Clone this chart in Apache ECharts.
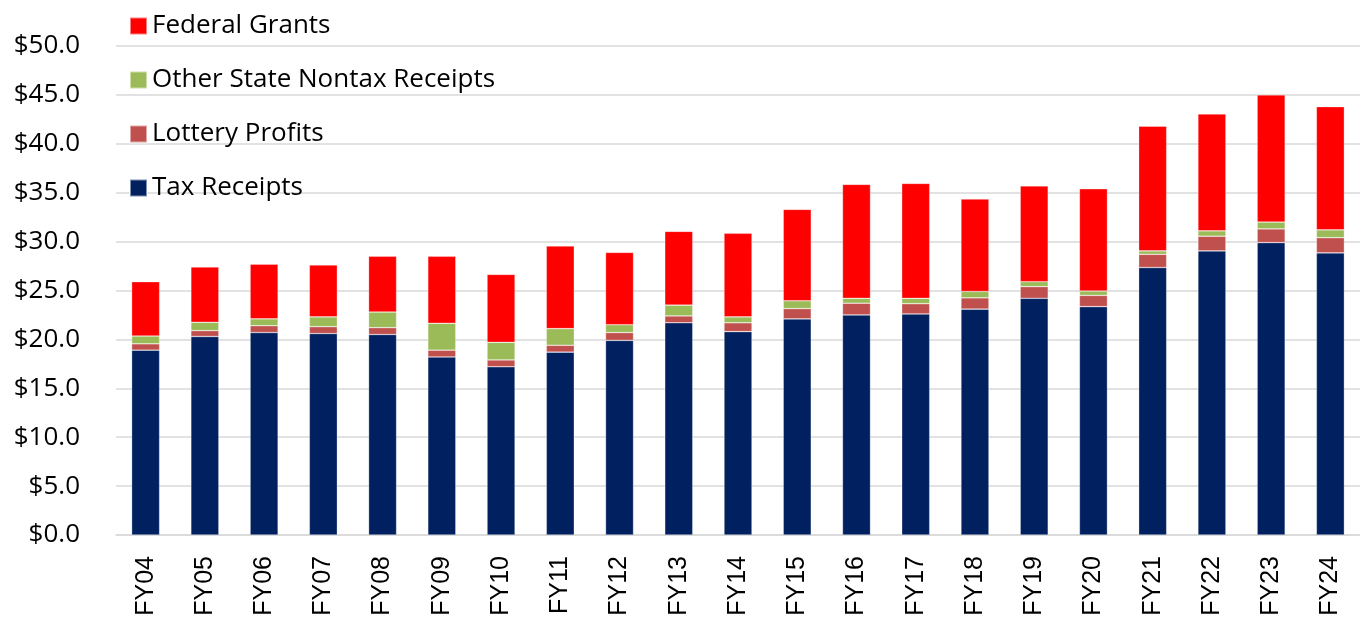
<!DOCTYPE html>
<html>
<head>
<meta charset="utf-8">
<script src="https://cdn.jsdelivr.net/npm/echarts@6/dist/echarts.min.js"></script>
<style>
html,body{margin:0;padding:0;background:#fff;}
#chart{width:1360px;height:620px;}
</style>
</head>
<body>
<div id="chart"></div>
<script>
const categories = ['FY04','FY05','FY06','FY07','FY08','FY09','FY10','FY11','FY12','FY13','FY14','FY15','FY16','FY17','FY18','FY19','FY20','FY21','FY22','FY23','FY24'];
const taxReceipts = [18.9,20.3,20.7,20.6,20.5,18.2,17.2,18.7,19.9,21.7,20.8,22.1,22.5,22.6,23.1,24.2,23.35,27.35,29.05,29.9,28.85];
const lotteryProfits = [0.65,0.6,0.7,0.7,0.7,0.7,0.7,0.7,0.8,0.7,0.9,1.05,1.2,1.05,1.15,1.2,1.15,1.35,1.5,1.4,1.55];
const otherNontax = [0.8,0.85,0.7,1.0,1.6,2.75,1.8,1.7,0.8,1.1,0.6,0.8,0.5,0.55,0.65,0.5,0.45,0.35,0.55,0.7,0.8];
const federalGrants = [5.55,5.65,5.6,5.3,5.7,6.85,6.95,8.45,7.4,7.55,8.55,9.35,11.65,11.75,9.45,9.8,10.45,12.75,11.95,13.0,12.6];
const yTicks = [0,5,10,15,20,25,30,35,40,45,50];

const chart = echarts.init(document.getElementById('chart'), null, {renderer:'canvas'});
const barBorder = {borderColor:'rgba(255,255,255,0.5)', borderWidth:0.6};
function mk(name, data, color){
  return {name:name, type:'bar', stack:'total', data:data, barWidth:28,
    itemStyle:Object.assign({color:color}, barBorder), emphasis:{disabled:true}};
}
chart.setOption({
  animation:false,
  grid:{left:116, right:0, top:46, bottom:85, containLabel:false},
  legend:{
    orient:'vertical', left:124, top:8, itemWidth:17, itemHeight:17, itemGap:28,
    icon:'rect',
    data:['Federal Grants','Other State Nontax Receipts','Lottery Profits','Tax Receipts'],
    textStyle:{fontFamily:'Open Sans', fontSize:26, color:'#000'}
  },
  xAxis:{
    type:'category', data:categories,
    axisLine:{show:true, lineStyle:{color:'#d9d9d9', width:1.5}},
    axisTick:{show:false},
    axisLabel:{rotate:90, fontFamily:'Liberation Sans', fontSize:25, color:'#000', margin:21, interval:0}
  },
  yAxis:{
    type:'value', min:yTicks[0], max:yTicks[yTicks.length-1], interval:5,
    axisLine:{show:false}, axisTick:{show:false},
    splitLine:{lineStyle:{color:'#d9d9d9', width:1.5}},
    axisLabel:{fontFamily:'Open Sans', fontSize:26, color:'#000', margin:36,
      formatter:function(v){return '$'+v.toFixed(1);}}
  },
  series:[
    mk('Tax Receipts', taxReceipts, '#002060'),
    mk('Lottery Profits', lotteryProfits, '#C0504D'),
    mk('Other State Nontax Receipts', otherNontax, '#9BBB59'),
    mk('Federal Grants', federalGrants, '#FF0000')
  ]
});
</script>
</body>
</html>
